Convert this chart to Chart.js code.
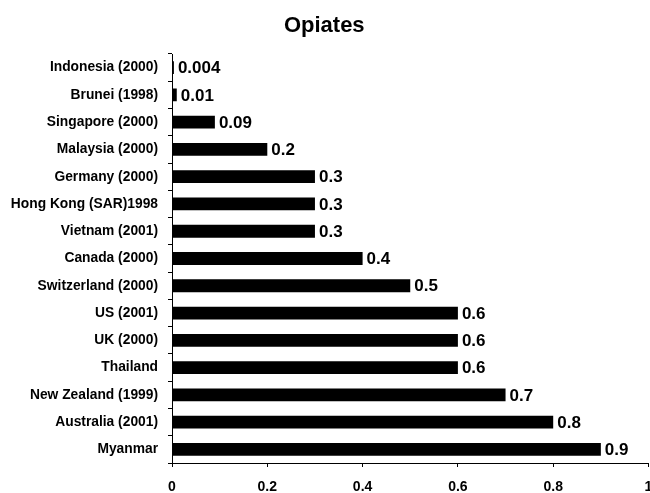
<!DOCTYPE html>
<html>
<head>
<meta charset="utf-8">
<script src="https://cdn.jsdelivr.net/npm/chart.js@4"></script>
<style>
html,body{margin:0;padding:0;background:#fff;}
#wrap{width:650px;height:493px;}
</style>
</head>
<body>
<div id="wrap"><canvas id="c" width="650" height="493"></canvas></div>
<script>
const categories = ["Indonesia (2000)","Brunei (1998)","Singapore (2000)","Malaysia (2000)","Germany (2000)","Hong Kong (SAR)1998","Vietnam (2001)","Canada (2000)","Switzerland (2000)","US (2001)","UK (2000)","Thailand","New Zealand (1999)","Australia (2001)","Myanmar"];
const values = [0.004,0.01,0.09,0.2,0.3,0.3,0.3,0.4,0.5,0.6,0.6,0.6,0.7,0.8,0.9];
const valueLabels = ["0.004","0.01","0.09","0.2","0.3","0.3","0.3","0.4","0.5","0.6","0.6","0.6","0.7","0.8","0.9"];
const xTickLabels = ["0","0.2","0.4","0.6","0.8","1"];
const chartTitle = "Opiates";

const FONT = "'Liberation Sans', Arial, sans-serif";

const valueLabelPlugin = {
  id: 'valueLabels',
  afterDatasetsDraw(chart) {
    const ctx = chart.ctx;
    const meta = chart.getDatasetMeta(0);
    ctx.save();
    ctx.font = "bold 17px " + FONT;
    ctx.fillStyle = "#000";
    ctx.textAlign = "left";
    ctx.textBaseline = "middle";
    meta.data.forEach((bar, i) => {
      ctx.fillText(valueLabels[i], bar.x + 4, bar.y + 1);
    });
    ctx.restore();
  }
};

new Chart(document.getElementById('c'), {
  type: 'bar',
  data: {
    labels: categories,
    datasets: [{
      data: values,
      backgroundColor: '#000',
      borderWidth: 0,
      categoryPercentage: 1,
      barPercentage: 0.47
    }]
  },
  options: {
    indexAxis: 'y',
    responsive: false,
    animation: false,
    layout: { padding: { left: 0, right: 1.5, top: 0, bottom: 0 } },
    plugins: {
      legend: { display: false },
      tooltip: { enabled: false },
      title: {
        display: true,
        text: chartTitle,
        color: '#000',
        font: { family: FONT, size: 22, weight: 'bold' },
        padding: { top: 13, bottom: 14.6 }
      }
    },
    scales: {
      x: {
        min: 0, max: 1,
        ticks: {
          stepSize: 0.2,
          color: '#000',
          font: { family: FONT, size: 14, weight: 'bold' },
          padding: 12,
          maxRotation: 0,
          callback: (v, i) => xTickLabels[i]
        },
        grid: { drawOnChartArea: false, drawTicks: true, tickLength: 4, color: '#000' },
        border: { display: true, color: '#000', width: 1 },
        afterFit(scale) { scale.height = 30; scale.paddingLeft = 0; scale.paddingRight = 0; }
      },
      y: {
        ticks: {
          color: '#000',
          font: { family: FONT, size: 13.8, weight: 'bold' },
          padding: 10,
          autoSkip: false
        },
        grid: { drawOnChartArea: false, drawTicks: true, tickLength: 4, color: '#000', offset: true },
        border: { display: true, color: '#000', width: 1 },
        afterFit(scale) { scale.width = 172; scale.paddingTop = 0; scale.paddingBottom = 0; }
      }
    }
  },
  plugins: [valueLabelPlugin]
});
</script>
</body>
</html>
